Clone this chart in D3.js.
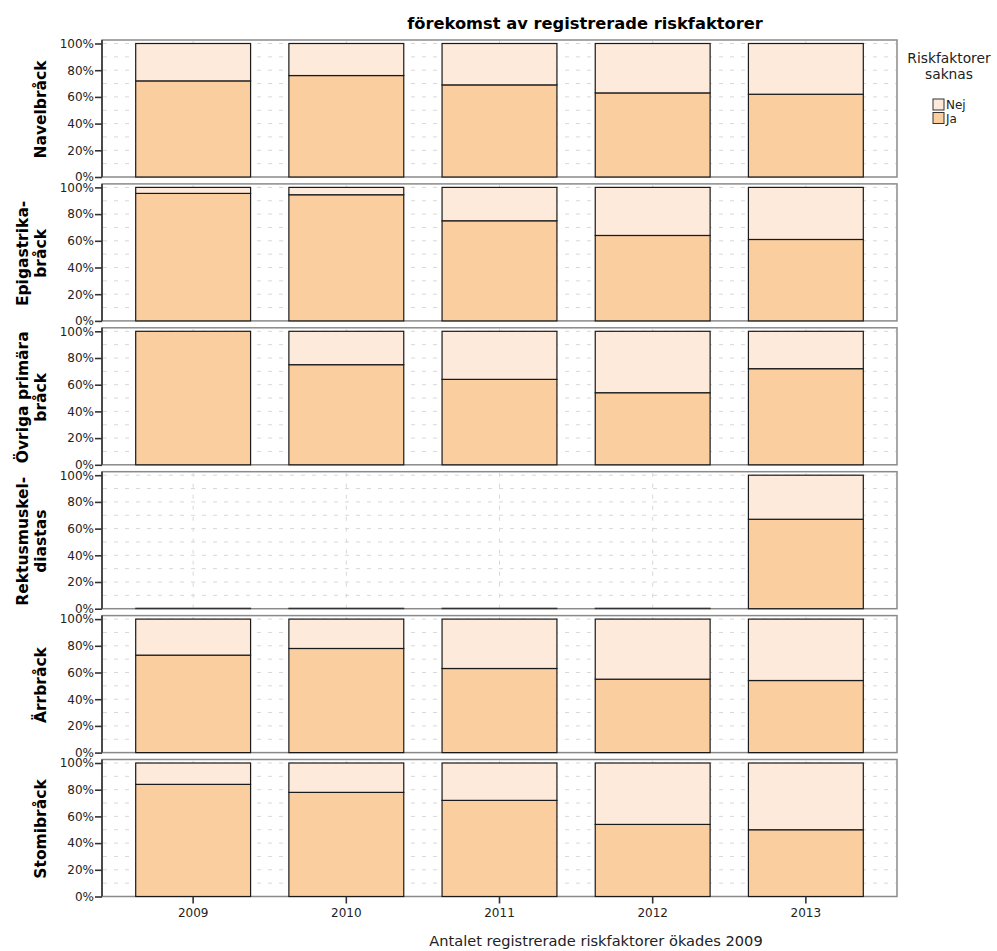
<!DOCTYPE html>
<html><head><meta charset="utf-8">
<script src="https://cdn.jsdelivr.net/npm/d3@7"></script>
<style>body{margin:0;background:#fff;} text{font-family:"DejaVu Sans",sans-serif;}</style>
</head><body>
<svg id="c" width="997" height="951"></svg>
<script>
const years = ["2009","2010","2011","2012","2013"];
const panelLabels = [["Navelbråck"],["Epigastrika-","bråck"],["Övriga primära","bråck"],["Rektusmuskel-","diastas"],["Ärrbråck"],["Stomibråck"]];
const jaNavel = [72, 76, 69, 63, 62];
const jaEpigastrika = [95.5, 94.5, 75, 64, 61];
const jaOvriga = [100, 75, 64, 54, 72];
const jaRektus = [null, null, null, null, 67];
const jaArr = [73, 78, 63, 55, 54];
const jaStomi = [84, 78, 72, 54, 50];
const seriesNames = ["Nej","Ja"];
const colors = {Nej:"#FDEADB", Ja:"#FACE9F"};
const yTicks = [0,20,40,60,80,100];
const titleText = "förekomst av registrerade riskfaktorer";
const xTitle = "Antalet registrerade riskfaktorer ökades 2009";
const legendTitle = ["Riskfaktorer","saknas"];

const allJa = [jaNavel, jaEpigastrika, jaOvriga, jaRektus, jaArr, jaStomi];

const FONT = "DejaVu Sans, sans-serif";
const svg = d3.select("#c");
const left = 102, right = 897;
const firstTop = 40, pitch = 143.9, panelH = 137, topPad = 3.5;

const x = d3.scaleBand().domain(years).range([left, right]).paddingInner(0.25).paddingOuter(0.22);

svg.append("text").attr("x", 585).attr("y", 29).attr("text-anchor","middle")
  .attr("font-size", 16.3).attr("font-weight","bold").attr("fill","#000").text(titleText);

allJa.forEach((vals, i) => {
  const top = firstTop + i*pitch;
  const y = d3.scaleLinear().domain([0,100]).range([top+panelH, top+topPad]);
  const g = svg.append("g");
  g.append("rect").attr("x", left).attr("y", top).attr("width", right-left).attr("height", panelH)
    .attr("fill","#fff").attr("stroke","#8a8a8a").attr("stroke-width",1.5);
  d3.range(10,101,10).forEach(v => {
    g.append("line").attr("x1", left+1).attr("x2", right-1).attr("y1", y(v)).attr("y2", y(v))
      .attr("stroke","#d8d8d8").attr("stroke-dasharray","4,7").attr("stroke-width",1);
  });
  years.forEach(yr => {
    const cx = x(yr) + x.bandwidth()/2;
    g.append("line").attr("x1", cx).attr("x2", cx).attr("y1", top+1).attr("y2", top+panelH-1)
      .attr("stroke","#d8d8d8").attr("stroke-dasharray","4,7").attr("stroke-width",1);
  });
  years.forEach((yr, j) => {
    const v = vals[j];
    if (v === null) {
      g.append("rect").attr("x", x(yr)).attr("y", y(0)-0.5).attr("width", x.bandwidth()).attr("height", 0.5)
        .attr("fill","#555").attr("stroke","#333").attr("stroke-width",1);
      return;
    }
    const stack = [{k:"Ja", y0:0, y1:v}, {k:"Nej", y0:v, y1:100}];
    stack.forEach(s => {
      g.append("rect").attr("x", x(yr)).attr("y", y(s.y1)).attr("width", x.bandwidth())
        .attr("height", y(s.y0)-y(s.y1)).attr("fill", colors[s.k])
        .attr("stroke","#1a1a1a").attr("stroke-width",1.2);
    });
  });
  const ax = g.append("g").attr("transform", `translate(${left},0)`)
    .call(d3.axisLeft(y).tickValues(yTicks).tickSize(7).tickSizeOuter(0).tickFormat(d => d + "%"));
  ax.select(".domain").attr("stroke","#333").attr("stroke-width",1.6)
    .attr("d", `M0,${top}V${top+panelH}`);
  ax.selectAll(".tick line").attr("stroke","#333").attr("stroke-width",1.6);
  ax.selectAll(".tick text").attr("font-size",12).attr("fill","#222").attr("font-family",FONT).attr("x",-8);
  const lines = panelLabels[i];
  const cy = top + panelH/2 + 1;
  lines.forEach((ln, k) => {
    const cx = 41 - (lines.length-1-k)*18;
    svg.append("text").attr("transform", `translate(${cx},${cy}) rotate(-90)`)
      .attr("text-anchor","middle").attr("dominant-baseline","central")
      .attr("font-size",15.5).attr("font-weight","bold").attr("fill","#000").text(ln);
  });
});

const lastBottom = firstTop + 5*pitch + panelH;
const xa = svg.append("g").attr("transform", `translate(0,${lastBottom})`)
  .call(d3.axisBottom(x).tickSize(7).tickSizeOuter(0));
xa.select(".domain").remove();
xa.selectAll(".tick line").attr("stroke","#333").attr("stroke-width",1.6);
xa.selectAll(".tick text").attr("font-size",12).attr("fill","#222").attr("font-family",FONT).attr("y",12);

svg.append("text").attr("x", 596).attr("y", 946).attr("text-anchor","middle")
  .attr("font-size",14.6).attr("fill","#222").text(xTitle);

legendTitle.forEach((t,k) => {
  svg.append("text").attr("x", 949).attr("y", 63 + k*15.5).attr("text-anchor","middle")
    .attr("font-size",13.8).attr("fill","#222").text(t);
});
seriesNames.forEach((s,k) => {
  const ly = 99 + k*13.5;
  svg.append("rect").attr("x", 933).attr("y", ly).attr("width", 11).attr("height", 11)
    .attr("fill", colors[s]).attr("stroke","#333").attr("stroke-width",1);
  svg.append("text").attr("x", 946).attr("y", ly+10).attr("font-size",12).attr("fill","#222").text(s);
});
</script>
</body></html>
